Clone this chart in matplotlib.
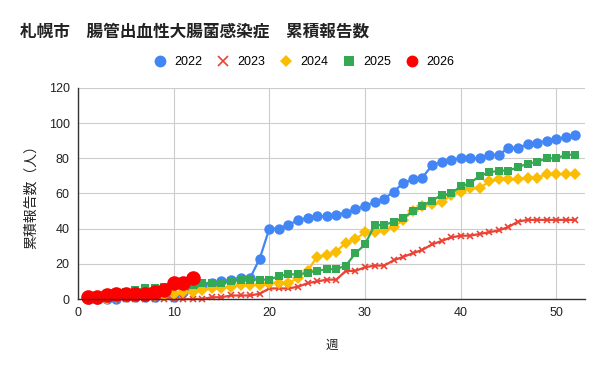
import matplotlib
matplotlib.use("Agg")
import matplotlib.pyplot as plt
from matplotlib.lines import Line2D

plt.rcParams['font.family'] = ['Liberation Sans', 'Noto Sans CJK JP']

weeks = list(range(1, 53))
y2022 = [0, 0, 0, 0, 1, 1, 1, 1, 2, 1, 4, 6,
         8, 9, 10, 11, 12, 12, 23, 40, 40, 42, 45, 46, 47, 47, 48, 49, 51, 53,
         55, 57, 61, 66, 68, 69, 76, 78, 79, 80, 80, 80, 82, 82, 86, 86, 88,
         89, 90, 91, 92, 93]
y2023 = [0, 0, 0, 0, 0, 0, 0, 0, 0, 0, 0, 0,
         0, 1, 1, 2, 2, 2, 3, 6, 6, 6, 7, 9, 10, 11, 11, 16, 16, 18,
         19, 19, 22, 24, 26, 28, 31, 33, 35, 36, 36, 37, 38, 39, 41, 44, 45,
         45, 45, 45, 45, 45]
y2024 = [0, 0, 0, 1, 1, 1, 2, 2, 2, 3, 4, 4,
         5, 6, 6, 7, 8, 8, 8, 9, 9, 9, 12, 16, 24, 25, 27, 32, 34, 38,
         38, 39, 41, 45, 50, 53, 54, 55, 59, 61, 63, 63, 67, 68, 68, 68, 69,
         69, 71, 71, 71, 71]
y2025 = [1, 1, 2, 3, 4, 5, 6, 6, 7, 8, 8, 8,
         9, 9, 9, 10, 11, 11, 11, 11, 13, 14, 14, 15, 16, 17, 17, 19, 26, 31,
         42, 42, 44, 46, 50, 53, 56, 59, 60, 64, 66, 70, 72, 73, 73, 75, 77,
         78, 80, 80, 82, 82]
y2026 = [1, 1, 2, 3, 3, 3, 3, 4, 5, 9, 9, 12]

series = [
    ("2022", y2022, "#4285F4", "o", 7.5),
    ("2023", y2023, "#EA4335", "x", 4.5),
    ("2024", y2024, "#FBBC04", "D", 6.0),
    ("2025", y2025, "#34A853", "s", 6.0),
    ("2026", y2026, "#FF0000", "o", 10.5),
]

fig = plt.figure(figsize=(6.01, 3.71), dpi=100)
ax = fig.add_axes([78/601, 1-299/371, (585-78)/601, (299-88)/371])

for name, ys, col, mk, ms in series:
    ax.plot(weeks[:len(ys)], ys, color=col, lw=1.6, marker=mk, ms=ms,
            mew=1.2 if mk == "x" else 0, mec=col, mfc=col, label=name, clip_on=False)

ax.set_xlim(0, 53)
ax.set_ylim(0, 120)
ax.set_xticks([0, 10, 20, 30, 40, 50])
ax.set_yticks([0, 20, 40, 60, 80, 100, 120])
ax.grid(True, color="#cccccc", lw=0.8)
ax.set_axisbelow(True)
for s in ["top", "right"]:
    ax.spines[s].set_visible(False)
for s in ["left", "bottom"]:
    ax.spines[s].set_color("#333333")
    ax.spines[s].set_linewidth(1.0)
ax.tick_params(length=0, labelsize=9, colors="#222222", pad=6)

ax.set_xlabel("週", fontsize=9, color="#222222", labelpad=14,
              family=['Noto Sans CJK JP'])
ax.set_ylabel("累積報告数（人）", fontsize=10, color="#222222", labelpad=8,
              family=['Noto Sans CJK JP'])

fig.text(20/601, 1-32/371, "札幌市　腸管出血性大腸菌感染症　累積報告数", fontsize=12,
         fontweight="bold", va="center", ha="left", family=['Noto Sans CJK JP'],
         color="#222222")

handles = [Line2D([], [], ls="none", marker=mk, color=col, ms=(8.5 if mk == "o" else 6.5),
                  mew=1.2 if mk == "x" else 0, mec=col, label=name)
           for name, ys, col, mk, ms in series]
fig.legend(handles=handles, loc="center", bbox_to_anchor=(304/601, 1-62/371), ncol=5,
           frameon=False, fontsize=9, handletextpad=0.6, columnspacing=1.2,
           handlelength=1.0)

fig.savefig("out.png", dpi=100)
